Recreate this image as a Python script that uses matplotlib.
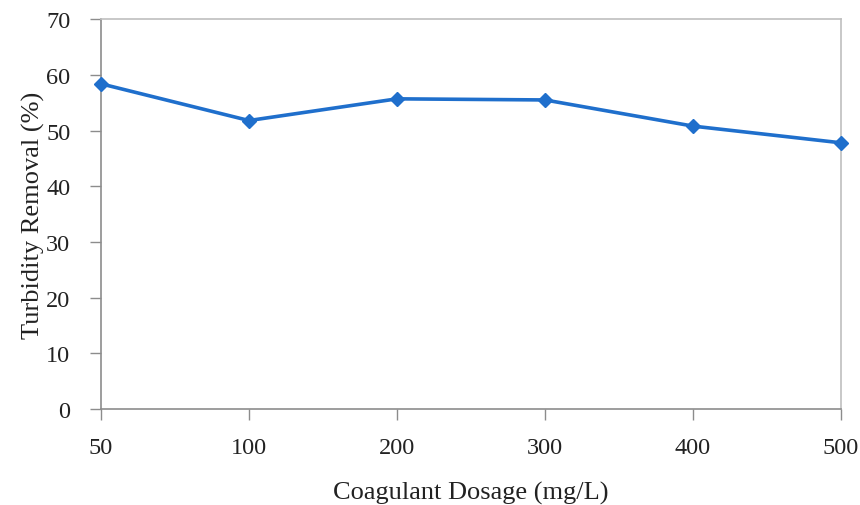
import matplotlib.pyplot as plt

dosage = ["50", "100", "200", "300", "400", "500"]
removal = [58.4, 51.8, 55.7, 55.5, 50.8, 47.8]

plt.rcParams['font.family'] = ['Liberation Serif', 'DejaVu Serif']

fig = plt.figure(figsize=(8.6, 5.06), dpi=100)
ax = fig.add_axes([0.1174, 0.190, 0.8605, 0.770])

x = list(range(len(dosage)))
ax.plot(x, removal, color='#1F6FCC', linewidth=2.6, marker='D', markersize=7.5,
        clip_on=False, zorder=3)

ax.set_xlim(0, len(dosage) - 1)
ax.set_ylim(0, 70)
ax.set_xticks(x)
ax.set_xticklabels(dosage)
ax.set_yticks(range(0, 71, 10))

for side in ['left', 'bottom']:
    ax.spines[side].set_color('#8C8C8C')
    ax.spines[side].set_linewidth(1.2)
for side in ['top', 'right']:
    ax.spines[side].set_color('#BFBFBF')
    ax.spines[side].set_linewidth(1.2)

ax.tick_params(axis='both', direction='out', length=8, width=1.0, color='#8C8C8C',
               labelsize=17.5, labelcolor='#222222')
ax.tick_params(axis='x', pad=12)
ax.tick_params(axis='y', pad=14)

ax.set_xlabel("Coagulant Dosage (mg/L)", fontsize=19, color='#222222', labelpad=17)
ax.set_ylabel("Turbidity Removal (%)", fontsize=19, color='#222222', labelpad=1)

fig.savefig("out.png", dpi=100)
